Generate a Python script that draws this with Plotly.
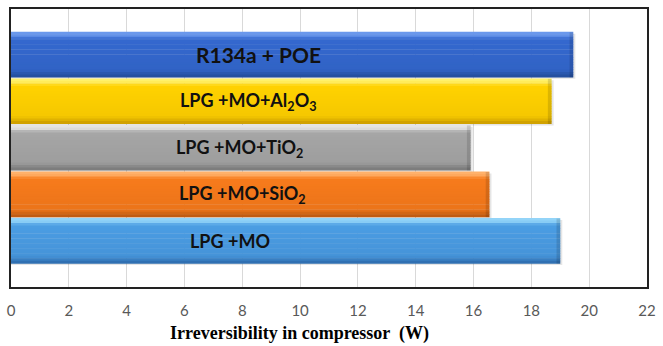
import plotly.graph_objects as go

# Mixtures, listed bottom to top
categories = [
    "LPG +MO",
    "LPG +MO+SiO<sub>2</sub>",
    "LPG +MO+TiO<sub>2</sub>",
    "LPG +MO+Al<sub>2</sub>O<sub>3</sub>",
    "R134a + POE",
]
# Compressor irreversibility (W)
irreversibility = [19.0, 16.55, 15.9, 18.7, 19.45]
x_ticks = list(range(0, 23, 2))

# Styling: (highlight, face, shade) per bar
palette = [
    ("#93D4F8", "#4B9DE3", "#2C68AA"),
    ("#FFB16A", "#F77B1C", "#B9560F"),
    ("#E4E4E4", "#A6A6A6", "#767676"),
    ("#FFF16A", "#FFD200", "#C99A00"),
    ("#6A98EC", "#3468CF", "#224C98"),
]
label_x = [7.57, 8.0, 7.9, 8.21, 8.55]
label_size = [18, 18, 18, 18, 21]
BAR_W = 0.97
N_STRIPS = 18


def hex_rgb(h):
    h = h.lstrip("#")
    return tuple(int(h[i:i + 2], 16) for i in (0, 2, 4))


def mix(a, b, t):
    ra, rb = hex_rgb(a), hex_rgb(b)
    return "rgb(%d,%d,%d)" % tuple(round(ra[i] + (rb[i] - ra[i]) * t) for i in range(3))


def shade_at(pal, t):
    """Colour of a bar at depth t (0 = top edge, 1 = bottom edge)."""
    hi, face, lo = pal
    if t < 0.07:
        return mix(hi, hi, 0)
    if t < 0.16:
        return mix(hi, face, (t - 0.07) / 0.09)
    if t < 0.84:
        return mix(face, lo, 0.18 * (t - 0.16) / 0.68)
    return mix(face, lo, 0.18 + 0.82 * (t - 0.84) / 0.16)


fig = go.Figure()

# soft drop shadow
fig.add_trace(go.Bar(
    y=categories, x=[v + 0.07 for v in irreversibility], orientation="h",
    width=BAR_W, offset=-BAR_W / 2 - 0.03,
    marker=dict(color="rgba(0,0,0,0.10)", line=dict(width=0)),
    hoverinfo="skip", showlegend=False,
))

# bevelled bars built from horizontal colour strips
w = BAR_W / N_STRIPS
for k in range(N_STRIPS):
    t = (k + 0.5) / N_STRIPS
    fig.add_trace(go.Bar(
        y=categories, x=irreversibility, orientation="h",
        width=w + 0.01, offset=BAR_W / 2 - (k + 1) * w,
        marker=dict(color=[shade_at(p, t) for p in palette], line=dict(width=0)),
        hoverinfo="skip" if k else "x+y", showlegend=False,
    ))

# darker bevel at the end of each bar
fig.add_trace(go.Bar(
    y=categories, x=[0.13] * len(irreversibility),
    base=[v - 0.13 for v in irreversibility], orientation="h",
    width=BAR_W, offset=-BAR_W / 2,
    marker=dict(color="rgba(0,0,0,0.12)", line=dict(width=0)),
    hoverinfo="skip", showlegend=False,
))

for cat, lx, sz in zip(categories, label_x, label_size):
    fig.add_annotation(
        x=lx, y=cat, xref="x", yref="y", text="<b>%s</b>" % cat,
        showarrow=False, xanchor="center", yanchor="middle",
        font=dict(family="Lato", size=sz, color="#111111"),
    )

fig.add_annotation(
    x=0.453, y=-0.168, xref="paper", yref="paper",
    text="<b>Irreversibility in compressor  (W)</b>", showarrow=False,
    xanchor="center", yanchor="middle",
    font=dict(family="Liberation Serif", size=18, color="#000000"),
)

fig.update_layout(
    width=663, height=346,
    margin=dict(l=10, r=8, t=7, b=59),
    barmode="overlay",
    paper_bgcolor="white", plot_bgcolor="white",
    showlegend=False,
)
fig.update_xaxes(
    range=[0, 22], tickvals=x_ticks,
    showgrid=True, gridcolor="#D9D9D9", gridwidth=1,
    showline=True, linecolor="#222222", linewidth=1.5, mirror=True,
    zeroline=False, ticks="", ticklabelstandoff=9,
    tickfont=dict(family="Lato", size=15, color="#595959"),
)
fig.update_yaxes(
    type="category", categoryorder="array", categoryarray=categories,
    range=[-0.985, 4.985], showticklabels=False, showgrid=False,
    showline=True, linecolor="#222222", linewidth=1.5, mirror=True,
    zeroline=False, ticks="",
)

fig.write_html("out.html")
